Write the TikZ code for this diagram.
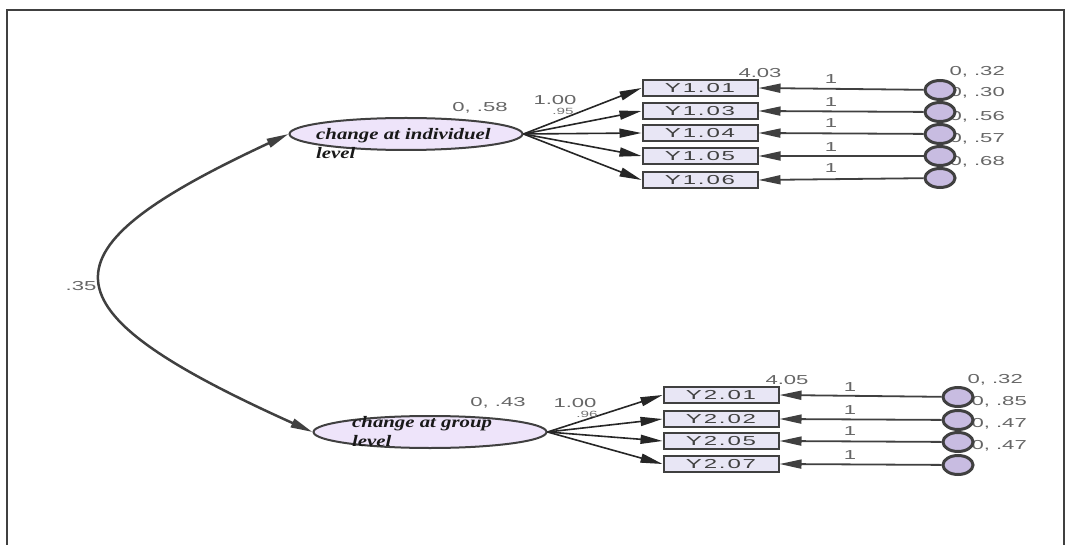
\documentclass[tikz,border=0pt]{standalone}
\usepackage{fontspec}
\setmainfont{Liberation Sans}
\newfontfamily\numfamily[FakeStretch=1.7]{Liberation Sans}
\newfontfamily\boxfamily[FakeStretch=1.85,LetterSpace=14]{Liberation Sans}
\newfontfamily\latfamily[FakeStretch=1.3]{Liberation Serif}
\usetikzlibrary{arrows.meta,positioning,shapes.geometric}
\definecolor{lav}{RGB}{238,228,250}
\definecolor{boxfill}{RGB}{232,230,245}
\definecolor{errfill}{RGB}{200,188,225}
\tikzset{
  latent/.style={ellipse, draw=black!75, line width=2pt, fill=lav,
    minimum width=233pt, minimum height=32pt, inner sep=0pt},
  lattext/.style={anchor=west, align=left, inner sep=0pt, text=black!90,
    font=\latfamily\fontsize{16}{19}\selectfont\bfseries\itshape},
  obs/.style={rectangle, draw=black!75, line width=2pt, fill=boxfill,
    minimum width=115pt, minimum height=16pt, inner sep=0pt,
    font=\boxfamily\fontsize{13}{13}\selectfont, text=black!75},
  err/.style={ellipse, draw=black!75, line width=3pt, fill=errfill,
    minimum width=30pt, minimum height=19pt, inner sep=0pt},
  num/.style={font=\numfamily\fontsize{13}{13}\selectfont, text=black!60, inner sep=0pt},
  small/.style={font=\numfamily\fontsize{9}{9}\selectfont, text=black!55, inner sep=0pt},
  load/.style={-{Triangle[length=22pt,width=9pt]}, line width=1.6pt, black!85},
  resid/.style={-{Triangle[length=22pt,width=9pt]}, line width=1.8pt, black!75},
}
\begin{document}
\begin{tikzpicture}[x=1pt,y=-1pt]
	\useasboundingbox (0,0) rectangle (1073,545);
	% frame
	\draw[line width=2.5pt, black!75] (7,546) -- (7,10) -- (1064,10) -- (1064,546);

	% latent variables
	\node[latent] (indiv) at (406,134) {};
	\node[latent] (group) at (430,432) {};
	\node[lattext] (indivlabel) at (316,144) {change at individuel\\level};
	\node[lattext] (grouplabel) at (352,432) {change at group\\level};

	% covariance
	\draw[{Triangle[length=22pt,width=9pt]}-{Triangle[length=22pt,width=9pt]}, line width=2.5pt, black!75]
		(indiv.west) .. controls (37,251) and (37,308) .. (group.west);
	\node[num] (cov) at (81,286) {.35};

	% observed variables, individual level
	\node[obs] (y101) at (700,88)  {Y1.01};
	\node[obs] (y103) at (700,111) {Y1.03};
	\node[obs] (y104) at (700,133) {Y1.04};
	\node[obs] (y105) at (700,156) {Y1.05};
	\node[obs] (y106) at (700,180) {Y1.06};

	% observed variables, group level
	\node[obs] (y201) at (721,395) {Y2.01};
	\node[obs] (y202) at (721,419) {Y2.02};
	\node[obs] (y205) at (721,441) {Y2.05};
	\node[obs] (y207) at (721,464) {Y2.07};

	% variances of the errors
	\node[num, anchor=east] (v1) at (1005,72)  {0, .32};
	\node[num, anchor=east] (v2) at (1005,93)  {0, .30};
	\node[num, anchor=east] (v3) at (1005,117) {0, .56};
	\node[num, anchor=east] (v4) at (1005,139) {0, .57};
	\node[num, anchor=east] (v5) at (1005,162) {0, .68};
	\node[num, anchor=east] (v6) at (1023,380) {0, .32};
	\node[num, anchor=east] (v7) at (1027,402) {0, .85};
	\node[num, anchor=east] (v8) at (1027,424) {0, .47};
	\node[num, anchor=east] (v9) at (1027,446) {0, .47};

	% errors
	\node[err] (e1) at (940,90)  {};
	\node[err] (e2) at (940,112) {};
	\node[err] (e3) at (940,134) {};
	\node[err] (e4) at (940,156) {};
	\node[err] (e5) at (940,178) {};
	\node[err] (e6) at (958,397) {};
	\node[err] (e7) at (958,420) {};
	\node[err] (e8) at (958,442) {};
	\node[err] (e9) at (958,465) {};

	% loadings
	\foreach \b in {y101,y103,y104,y105,y106}
		\draw[load] (indiv.east) -- (\b.west);
	\foreach \b in {y201,y202,y205,y207}
		\draw[load] (group.east) -- (\b.west);

	% error paths
	\foreach \e/\b in {e1/y101,e2/y103,e3/y104,e4/y105,e5/y106,e6/y201,e7/y202,e8/y205,e9/y207}
		\draw[resid] (\e) -- (\b.east);

	% labels
	\node[num] (m1) at (480,108) {0, .58};
	\node[num] (m2) at (498,403) {0, .43};
	\node[num] (f1) at (555,100) {1.00};
	\node[num] (f2) at (575,403) {1.00};
	\node[small] (f3) at (563,111) {.95};
	\node[small] (f4) at (587,414) {.96};
	\node[num] (i1) at (760,73)  {4.03};
	\node[num] (i2) at (787,380) {4.05};
	\foreach \y [count=\i] in {79,102,123,147,168}
		\node[num] (one\i) at (831,\y) {1};
	\foreach \y [count=\i] in {387,410,431,455}
		\node[num] (two\i) at (850,\y) {1};
\end{tikzpicture}
\end{document}
